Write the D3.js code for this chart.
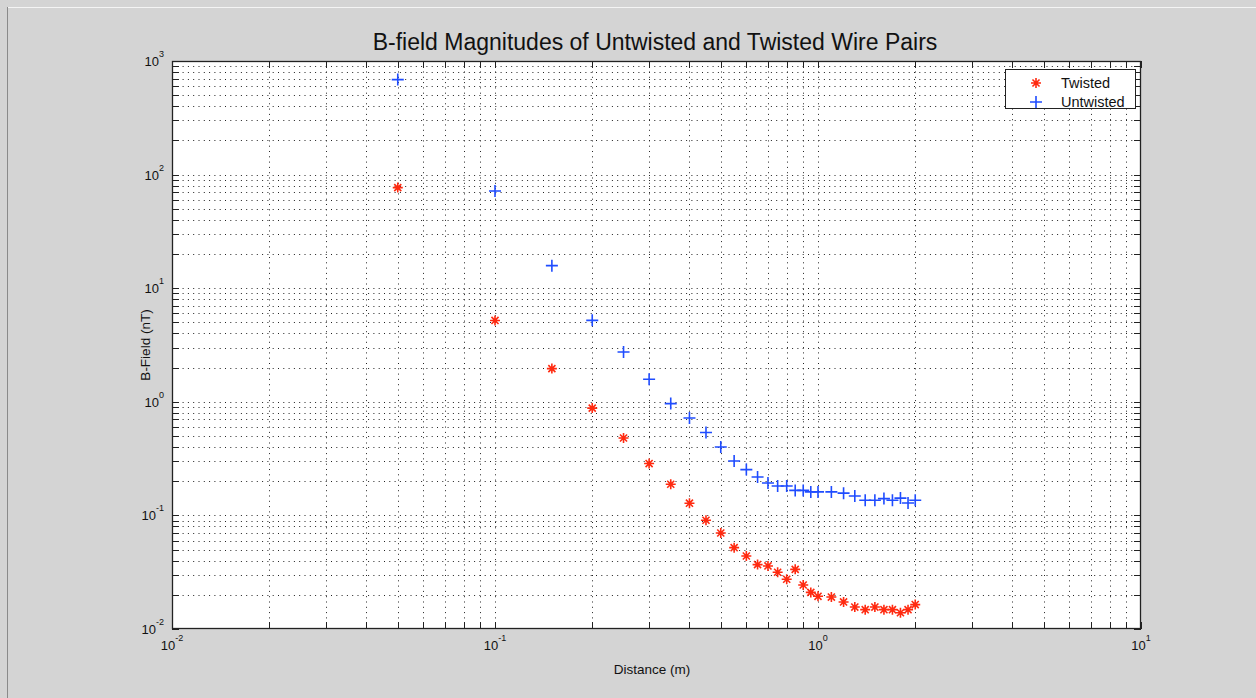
<!DOCTYPE html>
<html>
<head>
<meta charset="utf-8">
<script src="https://cdn.jsdelivr.net/npm/d3@7"></script>
<style>
  html, body { margin: 0; padding: 0; background: #d4d4d4; }
  svg { display: block; }
  text { font-family: "Liberation Sans", Arial, Helvetica, sans-serif; fill: #111; }
</style>
</head>
<body>
<svg id="chart" width="1256" height="698"></svg>
<script>
// ---- data ----
const distance = [0.05, 0.1, 0.15, 0.2, 0.25, 0.3, 0.35, 0.4, 0.45, 0.5,
                  0.55, 0.6, 0.65, 0.7, 0.75, 0.8, 0.85, 0.9, 0.95, 1.0,
                  1.1, 1.2, 1.3, 1.4, 1.5, 1.6, 1.7, 1.8, 1.9, 2.0];
const twisted = [76.8, 5.2, 1.96, 0.88, 0.48, 0.286, 0.188, 0.128, 0.0906, 0.070,
                 0.052, 0.0439, 0.0369, 0.0359, 0.0316, 0.0274, 0.0335, 0.0244, 0.021, 0.0194,
                 0.0191, 0.0173, 0.0156, 0.0148, 0.0156, 0.0148, 0.0148, 0.0139, 0.0148, 0.0164];
const untwisted = [686, 71.7, 15.8, 5.21, 2.74, 1.58, 0.964, 0.72, 0.536, 0.40,
                   0.301, 0.253, 0.218, 0.193, 0.1815, 0.1815, 0.166, 0.166, 0.161, 0.161,
                   0.161, 0.157, 0.148, 0.136, 0.136, 0.1405, 0.136, 0.142, 0.1286, 0.136];
const xTickExps = [-2, -1, 0, 1];
const yTickExps = [-2, -1, 0, 1, 2, 3];
const titleText = "B-field Magnitudes of Untwisted and Twisted Wire Pairs";
const xLabelText = "Distance (m)";
const yLabelText = "B-Field (nT)";
const seriesNames = ["Twisted", "Untwisted"];

// ---- layout ----
const svg = d3.select("#chart");
const L = 172, R = 1141, T = 61, B = 629;
const x = d3.scaleLog().domain([0.01, 10]).range([L, R]);
const y = d3.scaleLog().domain([0.01, 1000]).range([B, T]);
const red = "#ff2a10", blue = "#1f4cff";

// window frame
svg.append("rect").attr("x", 0).attr("y", 0).attr("width", 1256).attr("height", 698).attr("fill", "#d4d4d4");
svg.append("line").attr("x1", 7).attr("x2", 1256).attr("y1", 7.5).attr("y2", 7.5).attr("stroke", "#f4f4f4");
svg.append("line").attr("x1", 7.5).attr("x2", 7.5).attr("y1", 7).attr("y2", 698).attr("stroke", "#8a8a8a");

// plot area
svg.append("rect").attr("x", L).attr("y", T).attr("width", R - L).attr("height", B - T).attr("fill", "#fff");

function logVals(minE, maxE) {
  const v = [];
  for (let e = minE; e < maxE; e++) for (let m = 1; m <= 9; m++) v.push(m * Math.pow(10, e));
  v.push(Math.pow(10, maxE));
  return v;
}
const xVals = logVals(-2, 1);
const yVals = logVals(-2, 3);

const grid = svg.append("g").attr("stroke", "#222").attr("stroke-width", 1).attr("stroke-dasharray", "1,4.3");
grid.selectAll(".gx").data(xVals.filter(v => v > 0.01 && v < 10)).enter().append("line")
  .attr("x1", d => Math.round(x(d)) + 0.5).attr("x2", d => Math.round(x(d)) + 0.5)
  .attr("y1", B).attr("y2", T);
grid.selectAll(".gy").data(yVals.filter(v => v > 0.01 && v < 1000)).enter().append("line")
  .attr("y1", d => Math.round(y(d)) + 0.5).attr("y2", d => Math.round(y(d)) + 0.5)
  .attr("x1", L).attr("x2", R);

// ticks (inward, all sides)
const ticks = svg.append("g").attr("stroke", "#222").attr("stroke-width", 1);
xVals.forEach(v => {
  const px = Math.round(x(v)) + 0.5;
  const len = 7;
  ticks.append("line").attr("x1", px).attr("x2", px).attr("y1", B).attr("y2", B - len);
  ticks.append("line").attr("x1", px).attr("x2", px).attr("y1", T).attr("y2", T + len);
});
yVals.forEach(v => {
  const py = Math.round(y(v)) + 0.5;
  const len = 7;
  ticks.append("line").attr("y1", py).attr("y2", py).attr("x1", L).attr("x2", L + len);
  ticks.append("line").attr("y1", py).attr("y2", py).attr("x1", R).attr("x2", R - len);
});

// axis box
svg.append("rect").attr("x", L + 0.5).attr("y", T + 0.5).attr("width", R - L - 1).attr("height", B - T - 1)
  .attr("fill", "none").attr("stroke", "#222").attr("stroke-width", 1.3);

// tick labels
xTickExps.forEach(e => {
  const t = svg.append("text").attr("x", x(Math.pow(10, e))).attr("y", 650)
    .attr("text-anchor", "middle").attr("font-size", 13);
  t.append("tspan").text("10");
  t.append("tspan").attr("dy", -9).attr("font-size", 9).text(e);
});
yTickExps.forEach(e => {
  const t = svg.append("text").attr("x", 164).attr("y", y(Math.pow(10, e)) + 5)
    .attr("text-anchor", "end").attr("font-size", 13);
  t.append("tspan").text("10");
  t.append("tspan").attr("dy", -9).attr("font-size", 9).text(e);
});

// title and axis labels
svg.append("text").attr("x", 655).attr("y", 50).attr("text-anchor", "middle")
  .attr("font-size", 23).attr("fill", "#222").text(titleText);
svg.append("text").attr("x", 652).attr("y", 674).attr("text-anchor", "middle")
  .attr("font-size", 13.5).text(xLabelText);
svg.append("text").attr("transform", "translate(150,345) rotate(-90)").attr("text-anchor", "middle")
  .attr("font-size", 13.5).text(yLabelText);

// markers
function star(g, cx, cy, r, color) {
  const d = r * Math.SQRT1_2;
  g.append("path").attr("d",
    `M${cx - r},${cy}L${cx + r},${cy}M${cx},${cy - r}L${cx},${cy + r}` +
    `M${cx - d},${cy - d}L${cx + d},${cy + d}M${cx - d},${cy + d}L${cx + d},${cy - d}`)
    .attr("stroke", color).attr("stroke-width", 1.6).attr("fill", "none");
}
function plus(g, cx, cy, r, color) {
  g.append("path").attr("d", `M${cx - r},${cy}L${cx + r},${cy}M${cx},${cy - r}L${cx},${cy + r}`)
    .attr("stroke", color).attr("stroke-width", 1.6).attr("fill", "none");
}
const marks = svg.append("g");
distance.forEach((d, i) => star(marks, x(d), y(twisted[i]), 5, red));
distance.forEach((d, i) => plus(marks, x(d), y(untwisted[i]), 6, blue));

// legend
const lg = svg.append("g");
lg.append("rect").attr("x", 1005.5).attr("y", 69.5).attr("width", 130).attr("height", 39)
  .attr("fill", "#fff").attr("stroke", "#222").attr("stroke-width", 1);
star(lg, 1036, 83, 5, red);
plus(lg, 1036, 102, 6, blue);
lg.append("text").attr("x", 1061).attr("y", 88).attr("font-size", 14.5).text(seriesNames[0]);
lg.append("text").attr("x", 1061).attr("y", 107).attr("font-size", 14.5).text(seriesNames[1]);
</script>
</body>
</html>
